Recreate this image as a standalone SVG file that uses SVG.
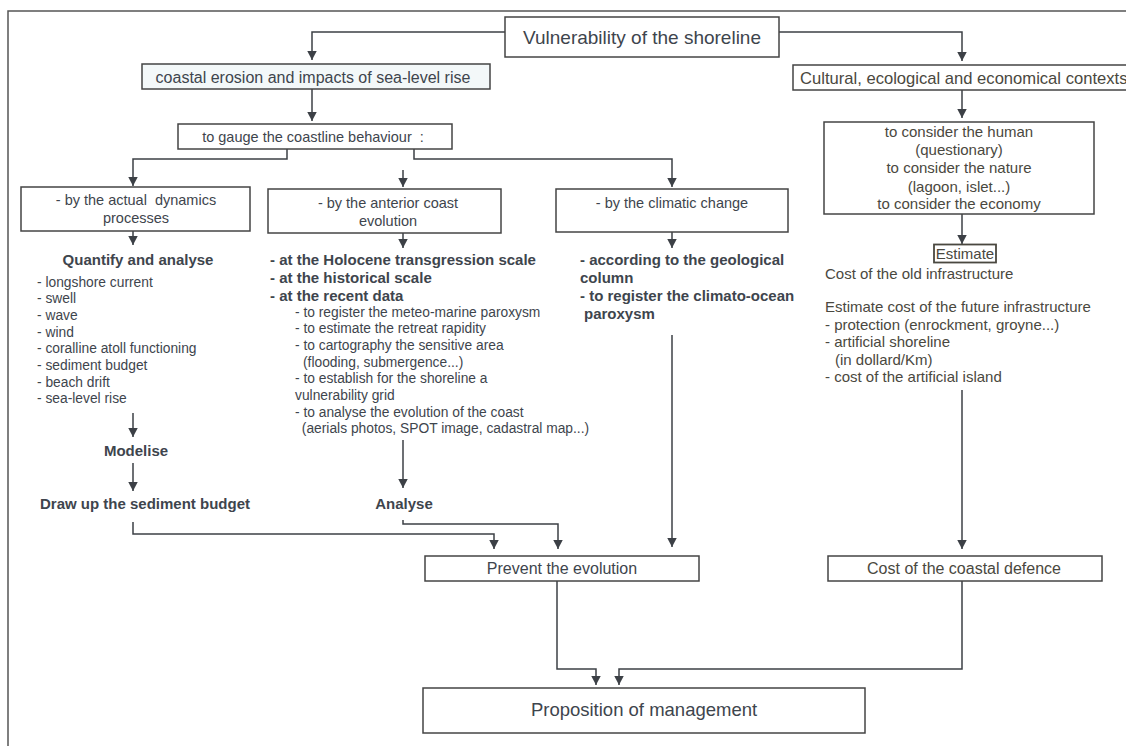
<svg xmlns="http://www.w3.org/2000/svg" width="1126" height="746" viewBox="0 0 1126 746">
<defs>
<marker id="ah" markerUnits="userSpaceOnUse" markerWidth="11" markerHeight="11" refX="9.5" refY="5" orient="auto">
<path d="M0,0 L9.5,5 L0,10 z" fill="#3c4046"/>
</marker>
</defs>
<style>
text{font-family:"Liberation Sans",Arial,sans-serif;fill:#3e454d}
.r text,text.r{fill:#4a4840}
.box{fill:#fff;stroke:#444;stroke-width:1.5}
.c{text-anchor:middle}
.b{font-weight:bold;font-size:15px}
.l{font-size:13.8px}
.conn path{fill:none;stroke:#3c4046;stroke-width:1.5}
.conn path.a{marker-end:url(#ah)}
</style>
<rect width="1126" height="746" fill="#fff"/>
<path d="M8,746 V11 H1126" fill="none" stroke="#555" stroke-width="1.5"/>

<g class="conn">
<path class="a" d="M505,32 H312 V60"/>
<path class="a" d="M779,32 H962 V61"/>
<path class="a" d="M312,89 V121"/>
<path class="a" d="M962,90 V118"/>
<path class="a" d="M287,149 V159 H133 V186"/>
<path class="a" d="M403,170 V187"/>
<path class="a" d="M414,149 V159 H672 V187"/>
<path class="a" d="M133,231 V245"/>
<path class="a" d="M403,233 V248"/>
<path class="a" d="M672,232 V248"/>
<path class="a" d="M962,214 V244"/>
<path class="a" d="M133,413 V437"/>
<path class="a" d="M133,463 V491"/>
<path class="a" d="M403,440 V488"/>
<path class="a" d="M133,522 V534 H494 V549"/>
<path class="a" d="M403,520 V524 H558 V549"/>
<path class="a" d="M672,335 V547"/>
<path class="a" d="M962,390 V549"/>
<path class="a" d="M557,581 V669 H596 V685"/>
<path class="a" d="M962,581 V669 H619 V685"/>
</g>

<g id="vulnerability">
<rect class="box" x="505" y="17" width="274" height="40"/>
<text class="c" x="642" y="44" font-size="19">Vulnerability of the shoreline</text>
</g>

<g id="coastal-erosion">
<rect class="box" x="142" y="64" width="348" height="25" style="fill:#f3f8f9"/>
<text class="c" x="313" y="82.5" font-size="16">coastal erosion and impacts of sea-level rise</text>
</g>

<g id="cultural" class="r">
<rect class="box" x="793" y="65" width="340" height="25"/>
<text x="800" y="83.5" font-size="16.6">Cultural, ecological and economical contexts</text>
</g>

<g id="gauge">
<rect class="box" x="178" y="124" width="274" height="25"/>
<text class="c" x="313" y="142" font-size="14.5" xml:space="preserve">to gauge the coastline behaviour  :</text>
</g>

<g id="dynamics">
<rect class="box" x="21" y="187" width="229" height="44"/>
<text class="c" x="136" y="205" font-size="14.5" xml:space="preserve">- by the actual  dynamics</text>
<text class="c" x="136" y="223" font-size="14.5">processes</text>
</g>

<g id="anterior">
<rect class="box" x="268" y="189" width="233" height="44"/>
<text class="c" x="388" y="208" font-size="14.5">- by the anterior coast</text>
<text class="c" x="388" y="226" font-size="14.5">evolution</text>
</g>

<g id="climatic">
<rect class="box" x="556" y="189" width="232" height="43"/>
<text class="c" x="672" y="208" font-size="14.5">- by the climatic change</text>
</g>

<g id="consider" class="r">
<rect class="box" x="824" y="122" width="270" height="92"/>
<text class="c" x="959" y="137" font-size="15">to consider the human</text>
<text class="c" x="959" y="155" font-size="15">(questionary)</text>
<text class="c" x="959" y="173" font-size="15">to consider the nature</text>
<text class="c" x="959" y="191.5" font-size="15">(lagoon, islet...)</text>
<text class="c" x="959" y="209" font-size="15">to consider the economy</text>
</g>

<g id="quantify">
<text class="b c" x="138" y="265">Quantify and analyse</text>
<text class="l" x="37" y="286.5">- longshore current</text>
<text class="l" x="37" y="303">- swell</text>
<text class="l" x="37" y="320">- wave</text>
<text class="l" x="37" y="336.5">- wind</text>
<text class="l" x="37" y="353">- coralline atoll functioning</text>
<text class="l" x="37" y="370">- sediment budget</text>
<text class="l" x="37" y="386.5">- beach drift</text>
<text class="l" x="37" y="403">- sea-level rise</text>
</g>

<g id="modelise">
<text class="b c" x="136" y="456">Modelise</text>
</g>

<g id="sediment-budget">
<text class="b" x="40" y="509">Draw up the sediment budget</text>
</g>

<g id="anterior-scales">
<text class="b" x="270" y="265">- at the Holocene transgression scale</text>
<text class="b" x="270" y="283">- at the historical scale</text>
<text class="b" x="270" y="301">- at the recent data</text>
<text class="l" x="295" y="316.5">- to register the meteo-marine paroxysm</text>
<text class="l" x="295" y="333">- to estimate the retreat rapidity</text>
<text class="l" x="295" y="350">- to cartography the sensitive area</text>
<text class="l" x="303" y="366.5">(flooding, submergence...)</text>
<text class="l" x="295" y="383">- to establish for the shoreline a</text>
<text class="l" x="295" y="399.5">vulnerability grid</text>
<text class="l" x="295" y="416.5">- to analyse the evolution of the coast</text>
<text class="l" x="298" y="433" xml:space="preserve"> (aerials photos, SPOT image, cadastral map...)</text>
</g>

<g id="analyse">
<text class="b c" x="404" y="509">Analyse</text>
</g>

<g id="climatic-items">
<text class="b" x="580" y="265">- according to the geological</text>
<text class="b" x="580" y="283">column</text>
<text class="b" x="580" y="301">- to register the climato-ocean</text>
<text class="b" x="584" y="319">paroxysm</text>
</g>

<g id="estimate" class="r">
<rect x="934" y="244.5" width="62" height="18" fill="#ffffff" stroke="#4a4840" stroke-width="1.8"/>
<text class="c" x="965" y="258.5" font-size="15">Estimate</text>
<text x="825" y="279" font-size="15">Cost of the old infrastructure</text>
<text x="825" y="312" font-size="15">Estimate cost of the future infrastructure</text>
<text x="825" y="330" font-size="15">- protection (enrockment, groyne...)</text>
<text x="825" y="347" font-size="15">- artificial shoreline</text>
<text x="835" y="365" font-size="15">(in dollard/Km)</text>
<text x="825" y="382" font-size="15">- cost of the artificial island</text>
</g>

<g id="prevent">
<rect class="box" x="425" y="556" width="274" height="25"/>
<text class="c" x="562" y="574" font-size="16">Prevent the evolution</text>
</g>

<g id="coastal-defence" class="r">
<rect class="box" x="828" y="556" width="274" height="25"/>
<text class="c" x="964" y="574" font-size="16">Cost of the coastal defence</text>
</g>

<g id="proposition">
<rect class="box" x="423" y="688" width="442" height="45"/>
<text class="c" x="644" y="716" font-size="18.5">Proposition of management</text>
</g>
</svg>
